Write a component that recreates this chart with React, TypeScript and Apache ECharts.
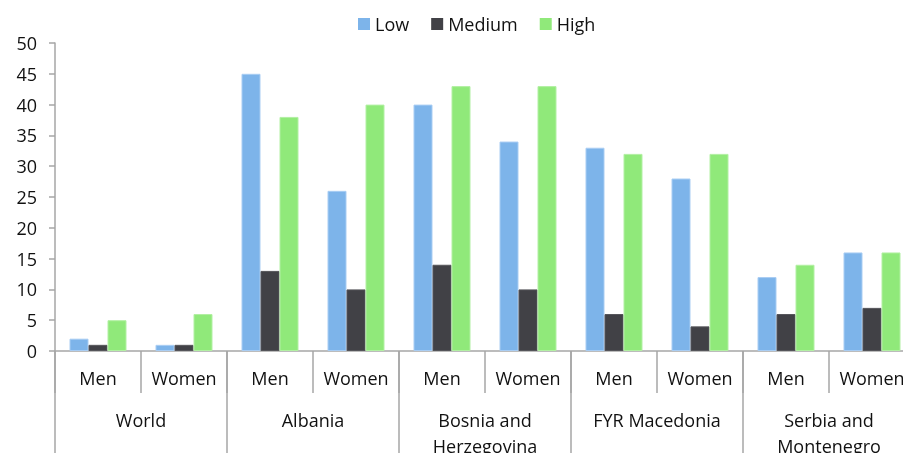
import React, { useEffect, useRef } from "react";
import * as echarts from "echarts";

const genders = ["Men", "Women", "Men", "Women", "Men", "Women", "Men", "Women", "Men", "Women"];
const countries = ["World", "Albania", "Bosnia and\nHerzegovina", "FYR Macedonia", "Serbia and\nMontenegro"];
const lowValues = [2, 1, 45, 26, 40, 34, 33, 28, 12, 16];
const mediumValues = [1, 1, 13, 10, 14, 10, 6, 4, 6, 7];
const highValues = [5, 6, 38, 40, 43, 43, 32, 32, 14, 16];
const yTicks = { min: 0, max: 50, interval: 5 };

const FONT = "Open Sans";
const AXIS_GRAY = "#a6a6a6";

export default function App() {
  const ref = useRef<HTMLDivElement>(null);
  useEffect(() => {
    if (!ref.current) return;
    const chart = echarts.init(ref.current, null, { renderer: "svg" });
    chart.setOption({
      animation: false,
      textStyle: { fontFamily: FONT },
      legend: {
        left: 353,
        top: 10,
        itemWidth: 12,
        itemHeight: 12,
        itemGap: 22,
        icon: "rect",
        itemStyle: { borderWidth: 0 },
        textStyle: { fontFamily: FONT, fontSize: 18, color: "#111" },
        data: ["Low", "Medium", "High"],
      },
      grid: { left: 55, top: 43, bottom: 102, right: 5, containLabel: false, outerBoundsMode: "none" },
      xAxis: [
        {
          type: "category",
          data: genders,
          position: "bottom",
          axisLine: { show: true, lineStyle: { color: AXIS_GRAY, width: 1.5 } },
          axisTick: { show: true, interval: 0, length: 42, lineStyle: { color: AXIS_GRAY, width: 1.5 } },
          axisLabel: { interval: 0, margin: 18, fontSize: 18, color: "#111", fontFamily: FONT },
        },
        {
          type: "category",
          data: countries,
          position: "bottom",
          offset: 0,
          axisLine: { show: false },
          axisTick: { show: true, interval: 0, length: 110, lineStyle: { color: AXIS_GRAY, width: 1.5 } },
          axisLabel: { interval: 0, margin: 56, fontSize: 18, lineHeight: 26, color: "#111", fontFamily: FONT },
        },
      ],
      yAxis: {
        type: "value",
        min: yTicks.min,
        max: yTicks.max,
        interval: yTicks.interval,
        splitLine: { show: false },
        axisLine: { show: true, lineStyle: { color: AXIS_GRAY, width: 1.5 } },
        axisTick: { show: true, length: 6, lineStyle: { color: AXIS_GRAY, width: 1.5 } },
        axisLabel: { margin: 18, fontSize: 18, color: "#111", fontFamily: FONT },
      },
      series: [
        {
          name: "Low", type: "bar", data: lowValues, barWidth: 19, barGap: "0%",
          itemStyle: { color: "#7db4ea", borderColor: "#a9cdf3", borderWidth: 1 },
        },
        {
          name: "Medium", type: "bar", data: mediumValues, barWidth: 19, barGap: "0%",
          itemStyle: { color: "#414146", borderColor: "#55555a", borderWidth: 1 },
        },
        {
          name: "High", type: "bar", data: highValues, barWidth: 19, barGap: "0%",
          itemStyle: { color: "#90e97a", borderColor: "#b2f0a3", borderWidth: 1 },
        },
      ],
    });
    return () => chart.dispose();
  }, []);
  return (
    <div style={{ position: "fixed", left: 0, top: 0, width: 903, height: 453, overflow: "hidden" }}>
      <div ref={ref} style={{ position: "absolute", left: 0, top: 0, width: 920, height: 453 }} />
    </div>
  );
}
